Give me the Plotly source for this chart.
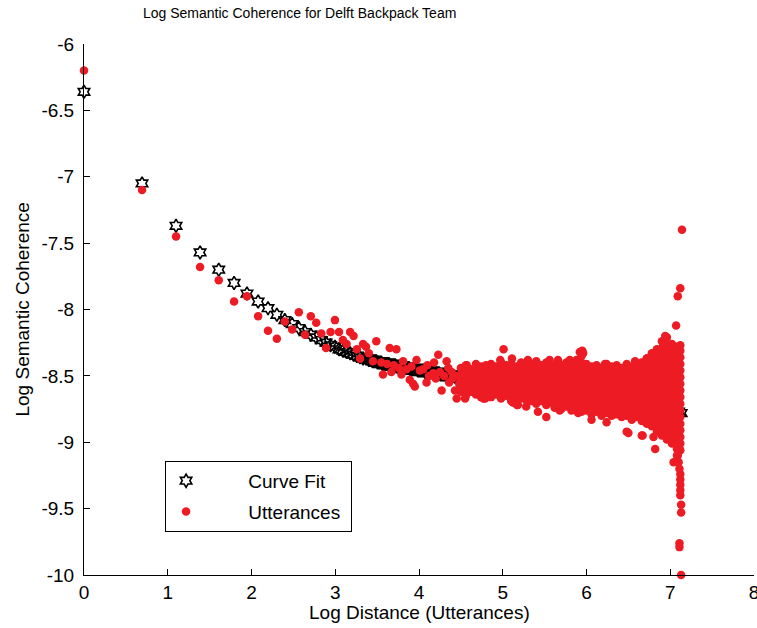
import plotly.graph_objects as go

# ---------------- Curve fit (stars) ----------------
fit_x = [0.0, 0.693, 1.099, 1.386, 1.609, 1.792, 1.946, 2.079, 2.197, 2.303,
         2.398, 2.485, 2.565, 2.639, 2.708, 2.773, 2.833, 2.890, 2.944, 2.996,
         3.045, 3.091, 3.135, 3.178, 3.219, 3.258, 3.296, 3.332, 3.367, 3.401,
         3.415, 3.43, 3.445, 3.46, 3.475, 3.49, 3.505, 3.52, 3.535, 3.55,
         3.565, 3.58, 3.595, 3.61, 3.625, 3.64, 3.655, 3.67, 3.685, 3.70,
         3.715, 3.73, 3.745, 3.76, 3.775, 3.79, 3.805, 3.82, 3.835, 3.85,
         3.865, 3.88, 3.895, 3.91, 3.925, 3.94, 3.955, 3.97, 3.985, 4.00,
         4.015, 4.03, 4.045, 4.06, 4.075, 4.09, 4.105, 4.12, 4.135, 4.15,
         4.165, 4.18, 4.195, 4.21, 4.225, 4.24, 4.255, 4.27, 4.285, 4.30,
         4.315, 4.33, 4.345, 4.36, 4.375, 4.39, 4.405, 4.42, 4.435, 4.45,
         4.465, 4.48, 4.495, 4.51, 4.525, 4.54, 4.555, 4.57, 4.585, 4.60,
         4.7, 4.8, 4.9, 5.0, 5.1, 5.2, 5.3, 5.4, 5.5, 5.6,
         5.7, 5.8, 5.9, 6.0, 6.1, 6.2, 6.3, 6.4, 6.5, 6.6,
         6.7, 6.8, 6.9, 7.0, 7.1, 7.13]
fit_y = [-6.36, -7.05, -7.37, -7.57, -7.70, -7.80, -7.88, -7.94, -7.99, -8.04,
         -8.08, -8.11, -8.14, -8.17, -8.19, -8.21, -8.23, -8.25, -8.27, -8.28,
         -8.30, -8.31, -8.32, -8.33, -8.34, -8.35, -8.36, -8.37, -8.37, -8.38,
         -8.38, -8.38, -8.39, -8.39, -8.39, -8.39, -8.40, -8.40, -8.40, -8.40,
         -8.41, -8.41, -8.41, -8.41, -8.41, -8.41, -8.42, -8.42, -8.42, -8.42,
         -8.42, -8.43, -8.43, -8.43, -8.43, -8.43, -8.43, -8.44, -8.44, -8.44,
         -8.44, -8.44, -8.45, -8.45, -8.45, -8.45, -8.45, -8.45, -8.46, -8.46,
         -8.46, -8.46, -8.46, -8.46, -8.47, -8.47, -8.47, -8.47, -8.47, -8.47,
         -8.48, -8.48, -8.48, -8.48, -8.48, -8.48, -8.49, -8.49, -8.49, -8.49,
         -8.49, -8.49, -8.50, -8.50, -8.50, -8.50, -8.50, -8.50, -8.51, -8.51,
         -8.51, -8.51, -8.51, -8.51, -8.52, -8.52, -8.52, -8.52, -8.52, -8.52,
         -8.53, -8.54, -8.55, -8.56, -8.57, -8.58, -8.59, -8.60, -8.61, -8.62,
         -8.63, -8.64, -8.65, -8.66, -8.67, -8.68, -8.69, -8.70, -8.71, -8.72,
         -8.73, -8.74, -8.75, -8.76, -8.77, -8.78]

# ---------------- Utterances: individual early points ----------------
head_x = [0.0, 0.693, 1.099, 1.386, 1.609, 1.792, 1.946, 2.079, 2.197, 2.303,
          2.398, 2.485, 2.565, 2.639, 2.708, 2.773, 2.833, 2.890, 2.944, 2.996,
          3.045, 3.091, 3.135, 3.178, 3.219, 3.258, 3.296, 3.332, 3.367, 3.401]
head_y = [-6.20, -7.10, -7.45, -7.68, -7.78, -7.94, -7.90, -8.05, -8.16, -8.22,
          -8.09, -8.15, -8.02, -8.19, -8.05, -8.10, -8.18, -8.29, -8.17, -8.08,
          -8.17, -8.23, -8.26, -8.17, -8.20, -8.30, -8.37, -8.26, -8.28, -8.33]

# ---------------- Utterances: transition region ----------------
mid_x = [3.45, 3.49, 3.55, 3.57, 3.62, 3.65, 3.67, 3.70, 3.73, 3.76,
         3.79, 3.81, 3.85, 3.89, 3.91, 3.93, 3.95, 3.97, 4.01, 4.05,
         4.09, 4.10, 4.12, 4.17, 4.18, 4.20, 4.23, 4.25, 4.27, 4.30,
         4.33, 4.35, 4.36, 4.39, 4.40, 4.43, 4.45, 4.46, 4.48]
mid_y = [-8.39, -8.24, -8.40, -8.49, -8.41, -8.29, -8.47, -8.42, -8.30, -8.44,
         -8.49, -8.39, -8.45, -8.53, -8.43, -8.56, -8.58, -8.38, -8.46, -8.45,
         -8.55, -8.42, -8.50, -8.48, -8.40, -8.52, -8.34, -8.47, -8.61, -8.50,
         -8.39, -8.44, -8.55, -8.47, -8.52, -8.61, -8.67, -8.50, -8.56]

# ---------------- Utterances: dense cloud, column by column ----------------
cloud_x = [4.50, 4.56, 4.62, 4.68, 4.74, 4.80, 4.86, 4.92, 4.98, 5.04,
           5.10, 5.16, 5.22, 5.28, 5.34, 5.40, 5.46, 5.52, 5.58, 5.64,
           5.70, 5.76, 5.82, 5.88, 5.94, 6.00, 6.06, 6.12, 6.18, 6.24,
           6.30, 6.36, 6.42, 6.48, 6.54, 6.60, 6.66, 6.72, 6.78, 6.84,
           6.90, 6.96, 7.02, 7.08, 7.12]
cloud_y = [
    [-8.44, -8.49, -8.53, -8.58, -8.62],
    [-8.42, -8.47, -8.51, -8.56, -8.60, -8.65],
    [-8.45, -8.49, -8.54, -8.58, -8.62],
    [-8.41, -8.46, -8.50, -8.55, -8.60, -8.64],
    [-8.43, -8.48, -8.52, -8.57, -8.61, -8.66],
    [-8.42, -8.46, -8.51, -8.55, -8.59, -8.63],
    [-8.41, -8.45, -8.50, -8.54, -8.58, -8.62, -8.66],
    [-8.43, -8.47, -8.52, -8.56, -8.60, -8.64],
    [-8.40, -8.45, -8.49, -8.53, -8.58, -8.62, -8.67],
    [-8.42, -8.47, -8.51, -8.55, -8.60, -8.65],
    [-8.41, -8.45, -8.50, -8.54, -8.58, -8.63, -8.69],
    [-8.43, -8.47, -8.52, -8.56, -8.61, -8.66, -8.71],
    [-8.40, -8.44, -8.49, -8.53, -8.58, -8.62, -8.67],
    [-8.42, -8.46, -8.51, -8.55, -8.60, -8.64, -8.68, -8.73],
    [-8.41, -8.45, -8.50, -8.54, -8.59, -8.63, -8.69],
    [-8.39, -8.44, -8.48, -8.53, -8.57, -8.62, -8.66, -8.71],
    [-8.42, -8.46, -8.51, -8.55, -8.60, -8.64, -8.69],
    [-8.40, -8.45, -8.49, -8.54, -8.58, -8.63, -8.67, -8.72],
    [-8.43, -8.47, -8.52, -8.56, -8.61, -8.65, -8.70],
    [-8.41, -8.45, -8.50, -8.54, -8.59, -8.63, -8.68, -8.72],
    [-8.42, -8.46, -8.51, -8.56, -8.60, -8.65, -8.70, -8.75],
    [-8.40, -8.45, -8.49, -8.54, -8.58, -8.63, -8.68, -8.73],
    [-8.43, -8.47, -8.52, -8.56, -8.61, -8.66, -8.71, -8.76],
    [-8.38, -8.43, -8.48, -8.52, -8.57, -8.61, -8.66, -8.70, -8.75],
    [-8.35, -8.40, -8.45, -8.50, -8.54, -8.59, -8.63, -8.68, -8.73, -8.77],
    [-8.41, -8.45, -8.50, -8.54, -8.59, -8.64, -8.68, -8.72, -8.76],
    [-8.43, -8.47, -8.52, -8.56, -8.61, -8.65, -8.70, -8.74, -8.79],
    [-8.42, -8.46, -8.51, -8.55, -8.60, -8.64, -8.69, -8.73, -8.77],
    [-8.44, -8.48, -8.53, -8.57, -8.62, -8.66, -8.71, -8.75, -8.80],
    [-8.41, -8.46, -8.50, -8.55, -8.59, -8.64, -8.68, -8.73, -8.78],
    [-8.43, -8.47, -8.52, -8.56, -8.61, -8.65, -8.70, -8.75, -8.80],
    [-8.42, -8.46, -8.51, -8.55, -8.60, -8.64, -8.69, -8.74, -8.79],
    [-8.44, -8.48, -8.53, -8.57, -8.62, -8.66, -8.71, -8.76, -8.81],
    [-8.41, -8.45, -8.50, -8.54, -8.59, -8.63, -8.68, -8.72, -8.77, -8.80],
    [-8.43, -8.47, -8.52, -8.56, -8.61, -8.65, -8.70, -8.74, -8.79, -8.83],
    [-8.42, -8.46, -8.51, -8.55, -8.60, -8.64, -8.69, -8.73, -8.77, -8.81],
    [-8.40, -8.44, -8.49, -8.53, -8.58, -8.62, -8.67, -8.71, -8.76, -8.80, -8.84],
    [-8.37, -8.42, -8.46, -8.51, -8.55, -8.60, -8.64, -8.69, -8.73, -8.78, -8.82, -8.86],
    [-8.33, -8.38, -8.42, -8.47, -8.51, -8.56, -8.60, -8.65, -8.69, -8.74, -8.78, -8.83, -8.88],
    [-8.30, -8.34, -8.39, -8.43, -8.48, -8.52, -8.57, -8.61, -8.66, -8.70, -8.75, -8.79, -8.84, -8.88, -8.92],
    [-8.24, -8.29, -8.33, -8.38, -8.42, -8.47, -8.51, -8.56, -8.60, -8.65, -8.69, -8.74, -8.78, -8.83, -8.87, -8.91, -8.95],
    [-8.21, -8.26, -8.30, -8.35, -8.39, -8.44, -8.48, -8.53, -8.57, -8.62, -8.66, -8.71, -8.75, -8.80, -8.84, -8.89, -8.93, -8.98],
    [-8.26, -8.30, -8.35, -8.39, -8.44, -8.48, -8.53, -8.57, -8.62, -8.66, -8.71, -8.75, -8.80, -8.84, -8.89, -8.93, -8.97, -9.01],
    [-8.28, -8.33, -8.37, -8.42, -8.46, -8.51, -8.55, -8.60, -8.64, -8.69, -8.73, -8.78, -8.82, -8.87, -8.91, -8.96, -9.00, -9.05, -9.10],
    [-8.31, -8.36, -8.41, -8.46, -8.51, -8.56, -8.61, -8.66, -8.71, -8.76, -8.81, -8.86, -8.91, -8.96, -9.01, -9.06],
]

# ---------------- Utterances: outliers and long-lag tail ----------------
out_x = [5.01, 5.92, 5.95, 5.96, 4.55, 4.77, 5.12, 5.18, 5.42, 5.52,
         5.68, 5.90, 6.50, 6.67, 6.82, 6.94, 7.04, 7.07, 7.09, 7.12,
         7.14, 7.12, 5.11, 5.30, 5.56, 5.66, 5.80, 6.22, 6.58, 6.72,
         5.13, 5.17, 5.62, 6.06, 6.24, 6.48, 6.66, 6.80, 4.79, 4.81,
         4.97, 4.57]
out_y = [-8.30, -8.32, -8.31, -8.33, -8.67, -8.67, -8.70, -8.72, -8.77, -8.81,
         -8.76, -8.78, -8.93, -8.95, -9.05, -8.20, -9.15, -8.12, -7.90, -7.84,
         -7.40, -8.27, -8.37, -8.38, -8.38, -8.38, -8.38, -8.41, -8.39, -8.37,
         -8.69, -8.72, -8.74, -8.83, -8.85, -8.92, -8.95, -8.96, -8.67, -8.46,
         -8.38, -8.42]
tail_x = [7.10, 7.11, 7.09, 7.10, 7.11, 7.12, 7.12, 7.12, 7.12, 7.12,
          7.13, 7.13, 7.11, 7.11, 7.13]
tail_y = [-9.00, -9.05, -9.10, -9.15, -9.20, -9.24, -9.28, -9.32, -9.36, -9.40,
          -9.47, -9.53, -9.76, -9.79, -10.00]

x_ticks = [0, 1, 2, 3, 4, 5, 6, 7, 8]
x_ticktext = ["0", "1", "2", "3", "4", "5", "6", "7", "8"]
y_ticks = [-10, -9.5, -9, -8.5, -8, -7.5, -7, -6.5, -6]
y_ticktext = ["-10", "-9.5", "-9", "-8.5", "-8", "-7.5", "-7", "-6.5", "-6"]

# assemble utterance series
utt_x = head_x + mid_x + out_x + tail_x
utt_y = head_y + mid_y + out_y + tail_y
for cx, col in zip(cloud_x, cloud_y):
    for v in col:
        utt_x.append(cx)
        utt_y.append(v)

RED = "#ED1C24"
FONT = "Liberation Sans, Arial, sans-serif"
NB = "\u00a0"

fig = go.Figure()
fig.add_trace(go.Scatter(
    x=fit_x, y=fit_y, mode="markers", name=NB * 8 + "Curve Fit",
    marker=dict(symbol="hexagram-open", size=10, color="black", line=dict(width=1.6, color="black")),
    legendgroup="a", cliponaxis=False,
))
fig.add_trace(go.Scatter(
    x=utt_x, y=utt_y, mode="markers", name=NB * 8 + "Utterances" + NB,
    marker=dict(symbol="circle", size=8.5, color=RED, line=dict(width=0)),
    legendgroup="b", cliponaxis=False,
))

fig.update_layout(
    width=757, height=628,
    margin=dict(l=84, r=3, t=44, b=53),
    paper_bgcolor="white", plot_bgcolor="white",
    font=dict(family=FONT, size=19, color="black"),
    showlegend=True,
    legend=dict(
        x=0.121, y=0.215, xanchor="left", yanchor="top",
        bordercolor="black", borderwidth=1, bgcolor="white",
        font=dict(family=FONT, size=19, color="black"),
        tracegroupgap=3, traceorder="grouped",
    ),
    xaxis=dict(
        range=[0, 8], tickvals=x_ticks, ticktext=x_ticktext, automargin=False,
        showgrid=False, zeroline=False, showline=True, linecolor="black", linewidth=1,
        ticks="inside", ticklen=6, tickcolor="black", mirror=False,
        ticklabeloverflow="allow",
        tickfont=dict(family=FONT, size=19, color="black"),
    ),
    yaxis=dict(
        range=[-10, -6], tickvals=y_ticks, ticktext=y_ticktext, automargin=False,
        showgrid=False, zeroline=False, showline=True, linecolor="black", linewidth=1,
        ticks="inside", ticklen=6, tickcolor="black", mirror=False,
        ticklabelstandoff=5, ticklabeloverflow="allow",
        tickfont=dict(family=FONT, size=19, color="black"),
    ),
    annotations=[
        dict(text="Log Semantic Coherence for Delft Backpack Team", xref="paper", yref="paper",
             x=0.322, y=1.058, xanchor="center", yanchor="middle", showarrow=False,
             font=dict(family=FONT, size=14, color="black")),
        dict(text="Log Distance (Utterances)", xref="paper", yref="paper",
             x=0.5, y=-0.0697, xanchor="center", yanchor="middle", showarrow=False,
             font=dict(family=FONT, size=19, color="black")),
        dict(text="Log Semantic Coherence", xref="paper", yref="paper",
             x=-0.0925, y=0.5, xanchor="center", yanchor="middle", showarrow=False,
             textangle=-90,
             font=dict(family=FONT, size=19, color="black")),
    ],
)

fig.write_html("out.html", config={"displayModeBar": False},
               post_script="document.body.style.margin='0';")
